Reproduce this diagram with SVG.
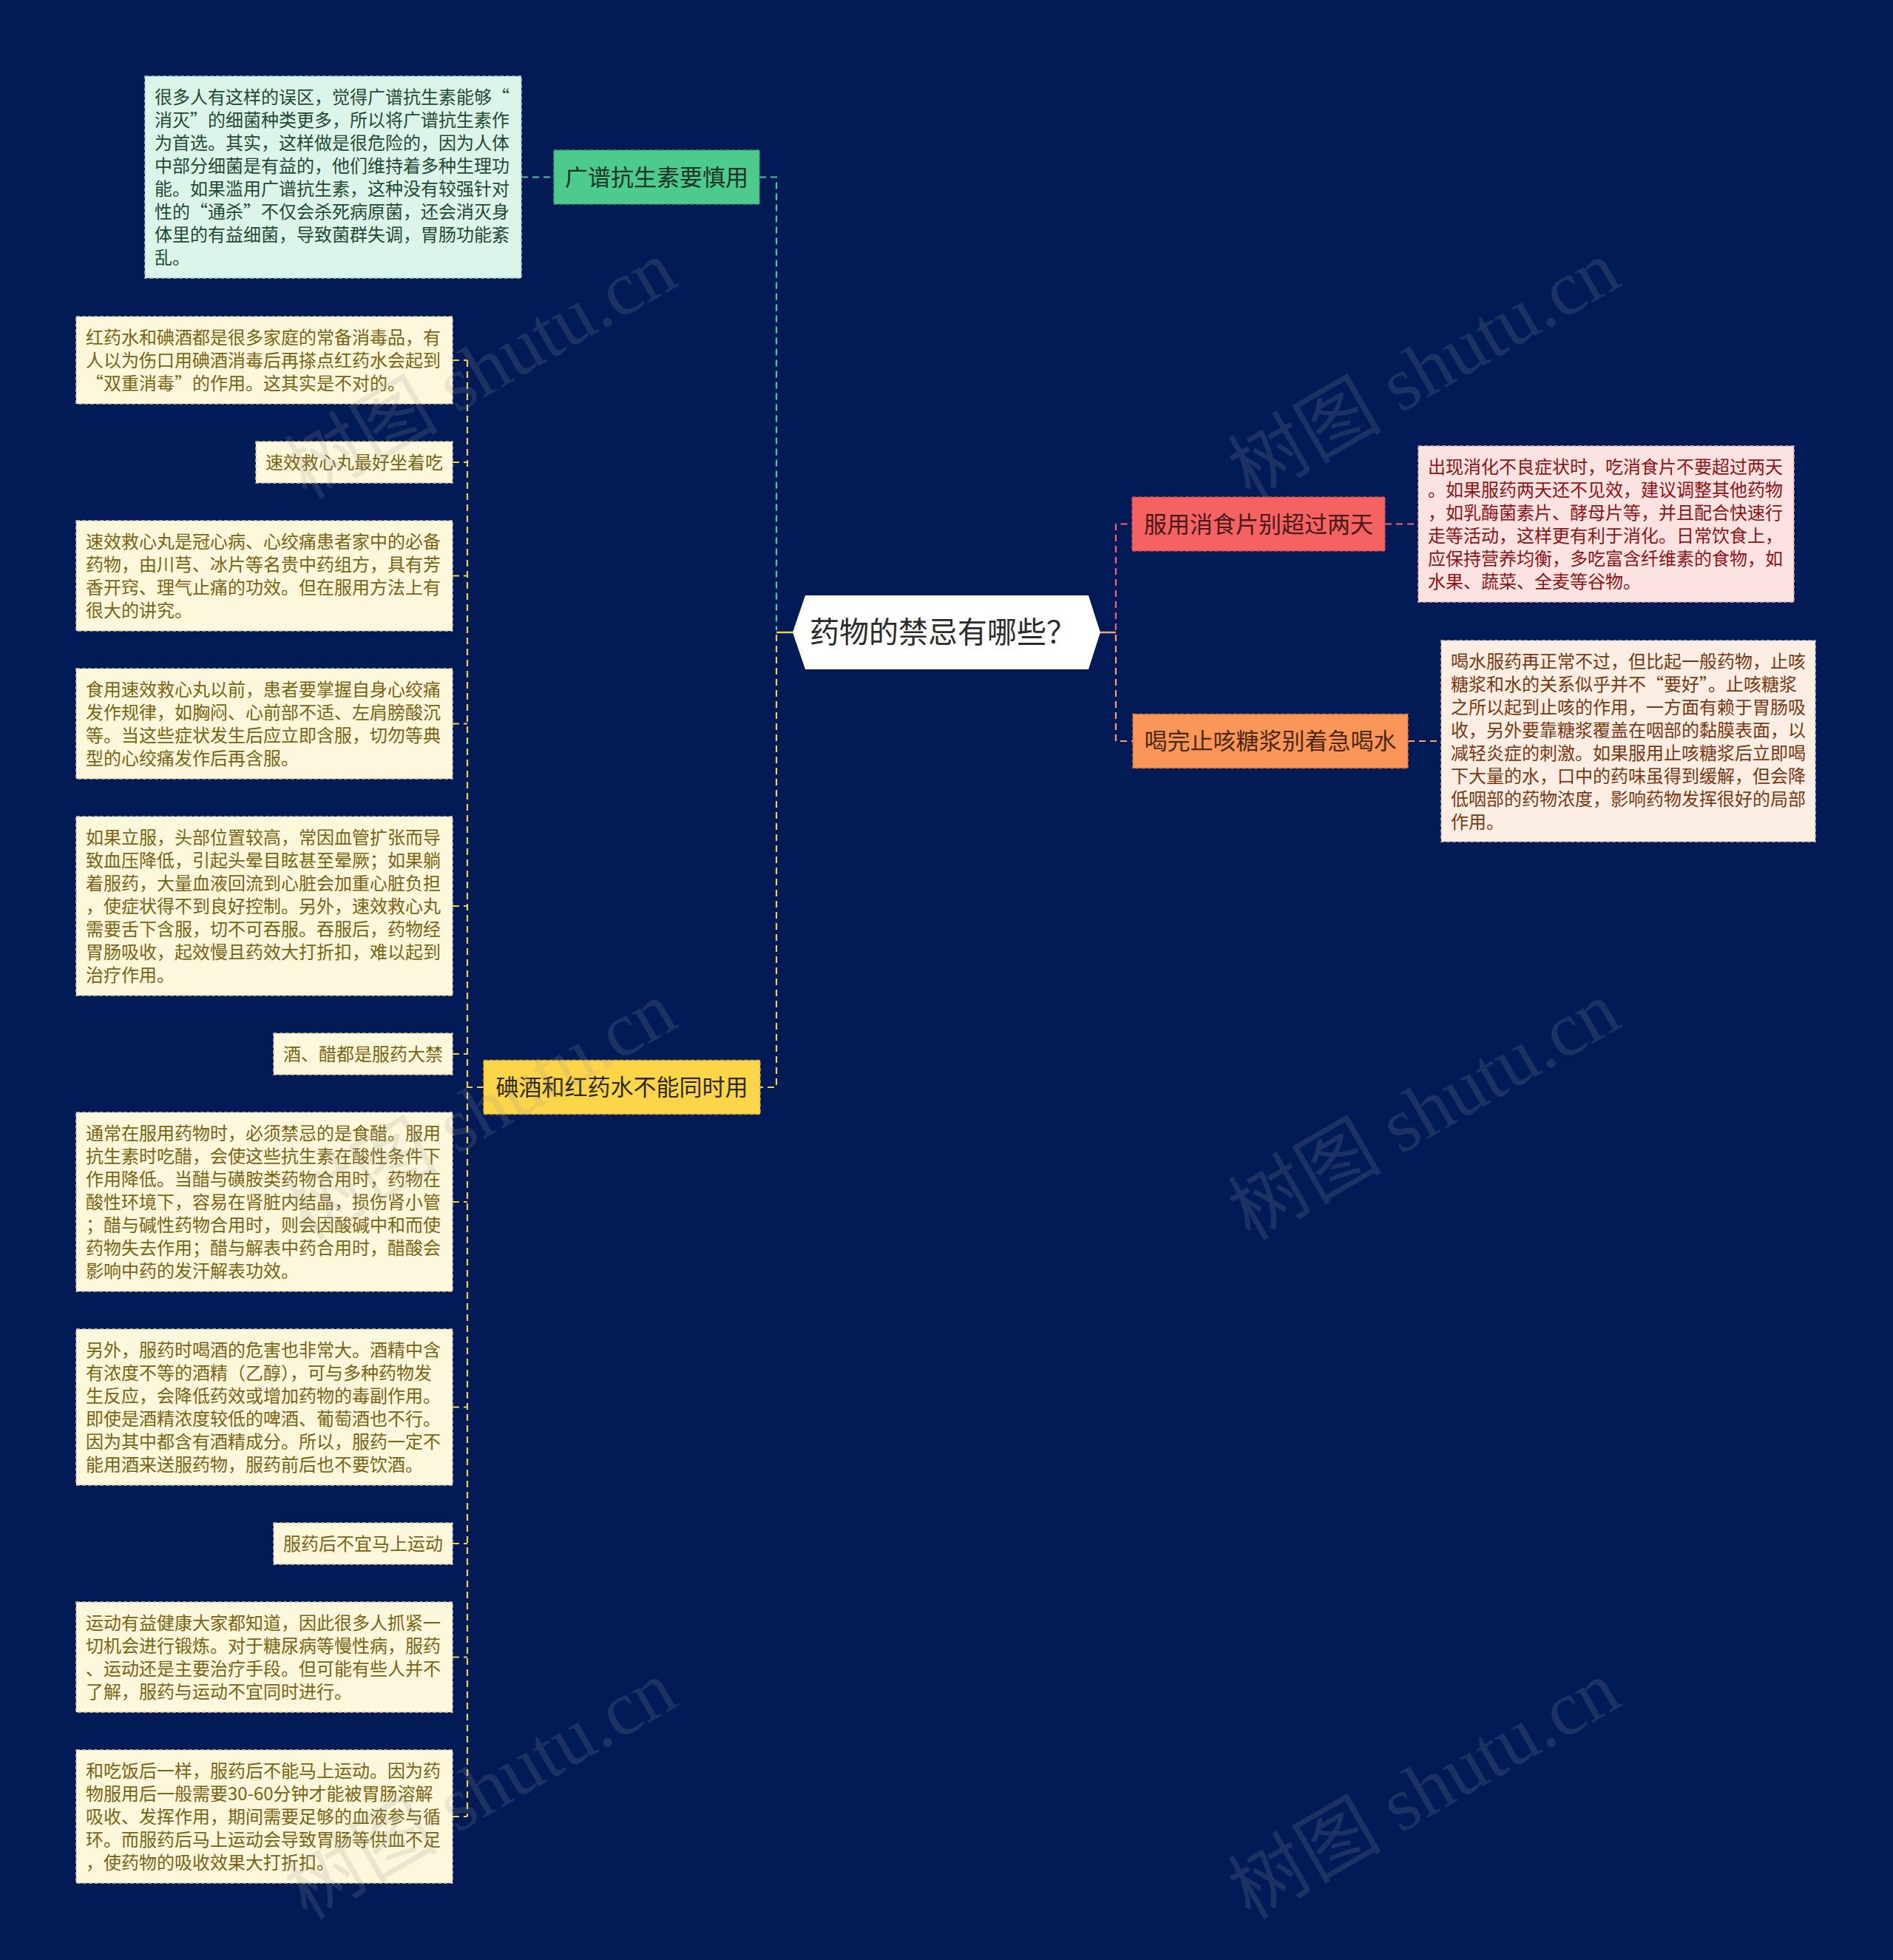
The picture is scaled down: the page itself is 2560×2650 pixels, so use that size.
<svg xmlns="http://www.w3.org/2000/svg" width="2560" height="2650" viewBox="0 0 2560 2650">
<style>
.bg{fill:#021b57}
.nt{font-family:"Noto Sans CJK SC","Noto Sans",sans-serif;font-size:24px}
.bt{font-family:"Noto Sans CJK SC","Noto Sans",sans-serif;font-size:31px;text-anchor:middle}
.box{stroke-width:1.5;stroke-dasharray:5 3}
.c{fill:none;stroke-width:2.2;stroke-dasharray:9 6}
.s{fill:none;stroke-width:2.5}
.wm{font-family:"Liberation Serif","Noto Sans CJK SC",serif;font-size:104px;fill:#9a9a9a;opacity:0.18}
.gn{fill:#dcf5ea;stroke:#a9c9bb}
.gt{fill:#1f4a33}
.gb{fill:#4ccb8c;stroke:#2fa36c}
.rn{fill:#fde2e2;stroke:#d8b0b0}
.rt{fill:#8e1414}
.rb{fill:#f46262;stroke:#c94848}
.on{fill:#fdeee3;stroke:#d9c0ad}
.ot{fill:#7a3812}
.ob{fill:#fa9657;stroke:#cf7440}
.yn{fill:#fdf7dc;stroke:#cfc7a3}
.yt{fill:#7a6414}
.yb{fill:#fcd549;stroke:#cfa92a}
</style>
<rect class="bg" x="0" y="0" width="2560" height="2650"/>
<g id="connectors">
<path class="s" stroke="#f2d04c" d="M1072,855 H1050"/>
<path class="s" stroke="#f4a56b" d="M1488,855 H1509"/>
<path class="c" stroke="#47c99a" d="M705,239.5 H749 M1027,239.5 H1050 V852"/>
<path class="c" stroke="#f2d04c" d="M1050,858 V1470 H1027 M654,1470 H632 M632,487 V2456 M612,487 H632 M612,625 H632 M612,778.5 H632 M612,978.5 H632 M612,1225 H632 M612,1425 H632 M612,1625 H632 M612,1902.5 H632 M612,2087 H632 M612,2240.5 H632 M612,2456 H632"/>
<path class="c" stroke="#ec6c6c" d="M1509,852 V708.5 H1531 M1873,708.5 H1918"/>
<path class="c" stroke="#f4a56b" d="M1509,858 V1002 H1532 M1904,1002 H1949"/>
</g>
<g id="root">
<polygon points="1072,855 1089,805 1472,805 1488,855 1472,905 1089,905" fill="#ffffff"/>
<text x="1095" y="869" font-family="Noto Sans CJK SC, Noto Sans, sans-serif" font-size="40" fill="#2b2b2b">药物的禁忌有哪些？</text>
</g>
<g id="branch-green">
<rect class="box gb" x="749" y="203" width="278" height="73"/>
<text class="bt" x="888" y="250.5" fill="#1d3327">广谱抗生素要慎用</text>
</g>
<g id="note-green">
<rect class="box gn" x="196" y="103" width="509" height="273"/>
<text class="nt gt" x="209" y="140">很多人有这样的误区，觉得广谱抗生素能够“</text>
<text class="nt gt" x="209" y="171">消灭”的细菌种类更多，所以将广谱抗生素作</text>
<text class="nt gt" x="209" y="202">为首选。其实，这样做是很危险的，因为人体</text>
<text class="nt gt" x="209" y="233">中部分细菌是有益的，他们维持着多种生理功</text>
<text class="nt gt" x="209" y="264">能。如果滥用广谱抗生素，这种没有较强针对</text>
<text class="nt gt" x="209" y="295">性的“通杀”不仅会杀死病原菌，还会消灭身</text>
<text class="nt gt" x="209" y="326">体里的有益细菌，导致菌群失调，胃肠功能紊</text>
<text class="nt gt" x="209" y="357">乱。</text>
</g>
<g id="branch-red">
<rect class="box rb" x="1531" y="672" width="342" height="73"/>
<text class="bt" x="1702" y="719.5" fill="#4a1818">服用消食片别超过两天</text>
</g>
<g id="note-red">
<rect class="box rn" x="1918" y="603" width="508" height="211"/>
<text class="nt rt" x="1931" y="640">出现消化不良症状时，吃消食片不要超过两天</text>
<text class="nt rt" x="1931" y="671">。如果服药两天还不见效，建议调整其他药物</text>
<text class="nt rt" x="1931" y="702">，如乳酶菌素片、酵母片等，并且配合快速行</text>
<text class="nt rt" x="1931" y="733">走等活动，这样更有利于消化。日常饮食上，</text>
<text class="nt rt" x="1931" y="764">应保持营养均衡，多吃富含纤维素的食物，如</text>
<text class="nt rt" x="1931" y="795">水果、蔬菜、全麦等谷物。</text>
</g>
<g id="branch-orange">
<rect class="box ob" x="1532" y="965.5" width="372" height="73"/>
<text class="bt" x="1718" y="1013" fill="#4a2812">喝完止咳糖浆别着急喝水</text>
</g>
<g id="note-orange">
<rect class="box on" x="1949" y="866" width="506" height="272"/>
<text class="nt ot" x="1962" y="903">喝水服药再正常不过，但比起一般药物，止咳</text>
<text class="nt ot" x="1962" y="934">糖浆和水的关系似乎并不“要好”。止咳糖浆</text>
<text class="nt ot" x="1962" y="965">之所以起到止咳的作用，一方面有赖于胃肠吸</text>
<text class="nt ot" x="1962" y="996">收，另外要靠糖浆覆盖在咽部的黏膜表面，以</text>
<text class="nt ot" x="1962" y="1027">减轻炎症的刺激。如果服用止咳糖浆后立即喝</text>
<text class="nt ot" x="1962" y="1058">下大量的水，口中的药味虽得到缓解，但会降</text>
<text class="nt ot" x="1962" y="1089">低咽部的药物浓度，影响药物发挥很好的局部</text>
<text class="nt ot" x="1962" y="1120">作用。</text>
</g>
<g id="branch-yellow">
<rect class="box yb" x="654" y="1433.5" width="374" height="73"/>
<text class="bt" x="841" y="1481" fill="#2e2a1a">碘酒和红药水不能同时用</text>
</g>
<g id="note-y1">
<rect class="box yn" x="103" y="428" width="509" height="118"/>
<text class="nt yt" x="116" y="465">红药水和碘酒都是很多家庭的常备消毒品，有</text>
<text class="nt yt" x="116" y="496">人以为伤口用碘酒消毒后再搽点红药水会起到</text>
<text class="nt yt" x="116" y="527">“双重消毒”的作用。这其实是不对的。</text>
</g>
<g id="note-y2">
<rect class="box yn" x="346" y="597" width="266" height="56"/>
<text class="nt yt" x="359" y="634">速效救心丸最好坐着吃</text>
</g>
<g id="note-y3">
<rect class="box yn" x="103" y="704" width="509" height="149"/>
<text class="nt yt" x="116" y="741">速效救心丸是冠心病、心绞痛患者家中的必备</text>
<text class="nt yt" x="116" y="772">药物，由川芎、冰片等名贵中药组方，具有芳</text>
<text class="nt yt" x="116" y="803">香开窍、理气止痛的功效。但在服用方法上有</text>
<text class="nt yt" x="116" y="834">很大的讲究。</text>
</g>
<g id="note-y4">
<rect class="box yn" x="103" y="904" width="509" height="149"/>
<text class="nt yt" x="116" y="941">食用速效救心丸以前，患者要掌握自身心绞痛</text>
<text class="nt yt" x="116" y="972">发作规律，如胸闷、心前部不适、左肩膀酸沉</text>
<text class="nt yt" x="116" y="1003">等。当这些症状发生后应立即含服，切勿等典</text>
<text class="nt yt" x="116" y="1034">型的心绞痛发作后再含服。</text>
</g>
<g id="note-y5">
<rect class="box yn" x="103" y="1104" width="509" height="242"/>
<text class="nt yt" x="116" y="1141">如果立服，头部位置较高，常因血管扩张而导</text>
<text class="nt yt" x="116" y="1172">致血压降低，引起头晕目眩甚至晕厥；如果躺</text>
<text class="nt yt" x="116" y="1203">着服药，大量血液回流到心脏会加重心脏负担</text>
<text class="nt yt" x="116" y="1234">，使症状得不到良好控制。另外，速效救心丸</text>
<text class="nt yt" x="116" y="1265">需要舌下含服，切不可吞服。吞服后，药物经</text>
<text class="nt yt" x="116" y="1296">胃肠吸收，起效慢且药效大打折扣，难以起到</text>
<text class="nt yt" x="116" y="1327">治疗作用。</text>
</g>
<g id="note-y6">
<rect class="box yn" x="370" y="1397" width="242" height="56"/>
<text class="nt yt" x="383" y="1434">酒、醋都是服药大禁</text>
</g>
<g id="note-y7">
<rect class="box yn" x="103" y="1504" width="509" height="242"/>
<text class="nt yt" x="116" y="1541">通常在服用药物时，必须禁忌的是食醋。服用</text>
<text class="nt yt" x="116" y="1572">抗生素时吃醋，会使这些抗生素在酸性条件下</text>
<text class="nt yt" x="116" y="1603">作用降低。当醋与磺胺类药物合用时，药物在</text>
<text class="nt yt" x="116" y="1634">酸性环境下，容易在肾脏内结晶，损伤肾小管</text>
<text class="nt yt" x="116" y="1665">；醋与碱性药物合用时，则会因酸碱中和而使</text>
<text class="nt yt" x="116" y="1696">药物失去作用；醋与解表中药合用时，醋酸会</text>
<text class="nt yt" x="116" y="1727">影响中药的发汗解表功效。</text>
</g>
<g id="note-y8">
<rect class="box yn" x="103" y="1797" width="509" height="211"/>
<text class="nt yt" x="116" y="1834">另外，服药时喝酒的危害也非常大。酒精中含</text>
<text class="nt yt" x="116" y="1865">有浓度不等的酒精（乙醇），可与多种药物发</text>
<text class="nt yt" x="116" y="1896">生反应，会降低药效或增加药物的毒副作用。</text>
<text class="nt yt" x="116" y="1927">即使是酒精浓度较低的啤酒、葡萄酒也不行。</text>
<text class="nt yt" x="116" y="1958">因为其中都含有酒精成分。所以，服药一定不</text>
<text class="nt yt" x="116" y="1989">能用酒来送服药物，服药前后也不要饮酒。</text>
</g>
<g id="note-y9">
<rect class="box yn" x="370" y="2059" width="242" height="56"/>
<text class="nt yt" x="383" y="2096">服药后不宜马上运动</text>
</g>
<g id="note-y10">
<rect class="box yn" x="103" y="2166" width="509" height="149"/>
<text class="nt yt" x="116" y="2203">运动有益健康大家都知道，因此很多人抓紧一</text>
<text class="nt yt" x="116" y="2234">切机会进行锻炼。对于糖尿病等慢性病，服药</text>
<text class="nt yt" x="116" y="2265">、运动还是主要治疗手段。但可能有些人并不</text>
<text class="nt yt" x="116" y="2296">了解，服药与运动不宜同时进行。</text>
</g>
<g id="note-y11">
<rect class="box yn" x="103" y="2366" width="509" height="180"/>
<text class="nt yt" x="116" y="2403">和吃饭后一样，服药后不能马上运动。因为药</text>
<text class="nt yt" x="116" y="2434">物服用后一般需要30-60分钟才能被胃肠溶解</text>
<text class="nt yt" x="116" y="2465">吸收、发挥作用，期间需要足够的血液参与循</text>
<text class="nt yt" x="116" y="2496">环。而服药后马上运动会导致胃肠等供血不足</text>
<text class="nt yt" x="116" y="2527">，使药物的吸收效果大打折扣。</text>
</g>
<g id="watermarks">
<text class="wm" x="650" y="535" text-anchor="middle" transform="rotate(-30 650 500)">树图 shutu.cn</text>
<text class="wm" x="1926" y="535" text-anchor="middle" transform="rotate(-30 1926 500)">树图 shutu.cn</text>
<text class="wm" x="650" y="1537" text-anchor="middle" transform="rotate(-30 650 1502)">树图 shutu.cn</text>
<text class="wm" x="1926" y="1537" text-anchor="middle" transform="rotate(-30 1926 1502)">树图 shutu.cn</text>
<text class="wm" x="650" y="2455" text-anchor="middle" transform="rotate(-30 650 2420)">树图 shutu.cn</text>
<text class="wm" x="1926" y="2455" text-anchor="middle" transform="rotate(-30 1926 2420)">树图 shutu.cn</text>
</g>
</svg>
